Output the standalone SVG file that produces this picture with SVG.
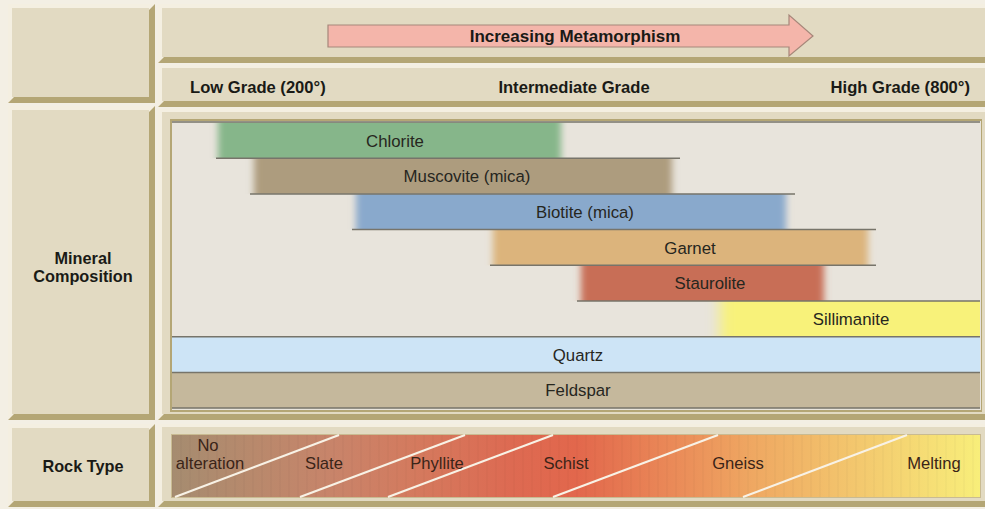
<svg xmlns="http://www.w3.org/2000/svg" width="985" height="509" viewBox="0 0 985 509">
<defs>
<style>
.cell{fill:#e2dac2}
.dk{fill:#b4a675}
.lt{fill:#f4efe1}
.hd{font-family:"Liberation Sans",Arial,sans-serif;font-weight:bold;font-size:16.6px;fill:#1a1a16}
.mn{font-family:"Liberation Sans",Arial,sans-serif;font-size:16.8px;fill:#26261e;text-anchor:middle}
.rk{font-family:"Liberation Sans",Arial,sans-serif;font-size:16.6px;fill:#3a2418;text-anchor:middle}
.sep{stroke:#77746a;stroke-width:1.5;fill:none}
.wl{stroke:#f8f2e6;stroke-width:2.2;fill:none}
</style>
<filter id="soft" x="-6%" y="0" width="112%" height="100%">
<feGaussianBlur stdDeviation="3.5 0"/>
</filter>
<filter id="softer" x="-10%" y="0" width="120%" height="100%">
<feGaussianBlur stdDeviation="7 0"/>
</filter>
<clipPath id="panelclip"><rect x="172" y="121" width="808" height="289"/></clipPath>
<linearGradient id="rockg" x1="172" y1="0" x2="980" y2="0" gradientUnits="userSpaceOnUse">
<stop offset="0" stop-color="#a58c70"/>
<stop offset="0.1" stop-color="#b8896c"/>
<stop offset="0.2" stop-color="#c8846a"/>
<stop offset="0.3" stop-color="#d47a5e"/>
<stop offset="0.42" stop-color="#dd6a52"/>
<stop offset="0.5" stop-color="#e2674c"/>
<stop offset="0.62" stop-color="#ea8a58"/>
<stop offset="0.72" stop-color="#efa862"/>
<stop offset="0.85" stop-color="#f3c86e"/>
<stop offset="1" stop-color="#f8ee7a"/>
</linearGradient>
<pattern id="stripes" x="0" y="0" width="9" height="10" patternUnits="userSpaceOnUse">
<rect x="0" y="0" width="2" height="10" fill="#000" opacity="0.018"/>
</pattern>
</defs>

<rect x="0" y="0" width="985" height="509" fill="#f3efe4"/>

<g id="frame">
<g id="cell-l1">
<rect x="8" y="4" width="147" height="99" class="dk"/>
<polygon points="8,4 155,4 149,10 14,10 14,97 8,103" class="lt"/>
<rect x="12" y="8" width="137" height="89" class="cell"/>
</g>
<g id="cell-l2">
<rect x="8" y="106" width="147" height="314" class="dk"/>
<polygon points="8,106 155,106 149,112 14,112 14,414 8,420" class="lt"/>
<rect x="12" y="110" width="137" height="304" class="cell"/>
</g>
<g id="cell-l3">
<rect x="8" y="424" width="147" height="83" class="dk"/>
<polygon points="8,424 155,424 149,430 14,430 14,501 8,507" class="lt"/>
<rect x="12" y="428" width="137" height="73" class="cell"/>
</g>
<g id="cell-r1">
<rect x="158" y="4" width="827" height="59" class="dk"/>
<polygon points="158,4 985,4 985,10 164,10 164,57 158,63" class="lt"/>
<rect x="162" y="8" width="823" height="49" class="cell"/>
</g>
<g id="cell-r2">
<rect x="158" y="65" width="827" height="42" class="dk"/>
<polygon points="158,65 985,65 985,70 164,70 164,101 158,107" class="lt"/>
<rect x="162" y="68" width="823" height="33" class="cell"/>
</g>
<g id="cell-r3">
<rect x="158" y="109" width="827" height="311" class="dk"/>
<polygon points="158,109 985,109 985,114 164,114 164,414 158,420" class="lt"/>
<rect x="162" y="112" width="823" height="302" class="cell"/>
</g>
<g id="cell-r4">
<rect x="158" y="424" width="827" height="83" class="dk"/>
<polygon points="158,424 985,424 985,429 164,429 164,501 158,507" class="lt"/>
<rect x="162" y="427" width="823" height="74" class="cell"/>
</g>
</g>

<g id="arrow-node">
<polygon points="328,25 789,25 789,15 813,36 789,56 789,47 328,47" fill="#f4b5aa" stroke="#a6877a" stroke-width="1.2"/>
<text class="hd" x="575" y="42" text-anchor="middle" style="font-size:17px">Increasing Metamorphism</text>
</g>

<g id="grades">
<text class="hd" x="190" y="93">Low Grade (200°)</text>
<text class="hd" x="574" y="93" text-anchor="middle">Intermediate Grade</text>
<text class="hd" x="970" y="93" text-anchor="end">High Grade (800°)</text>
</g>

<g id="label-mineral">
<text class="hd" x="83" y="264" text-anchor="middle" style="font-size:16.3px">Mineral</text>
<text class="hd" x="83" y="282" text-anchor="middle" style="font-size:16.3px">Composition</text>
</g>
<g id="label-rock">
<text class="hd" x="83" y="472" text-anchor="middle" style="font-size:16.3px">Rock Type</text>
</g>

<g id="mineral-panel">
<rect x="170" y="119" width="812" height="293" fill="#b4a675"/>
<rect x="172" y="121" width="809" height="289" fill="#e8e4dc"/>
</g>

<g id="bars">
<g clip-path="url(#panelclip)">
<rect x="218" y="122.5" width="343" height="35.7" fill="#86b68a" filter="url(#soft)"/>
<rect x="254" y="158.2" width="418" height="35.7" fill="#ad9c7e" filter="url(#soft)"/>
<rect x="356" y="193.9" width="430" height="35.7" fill="#89a9cc" filter="url(#soft)"/>
<rect x="493" y="229.6" width="375" height="35.7" fill="#dcb47c" filter="url(#soft)"/>
<rect x="581" y="265.3" width="243" height="35.7" fill="#c86e56" filter="url(#soft)"/>
<rect x="720" y="301" width="300" height="35.7" fill="#f8f27a" filter="url(#softer)"/>
<rect x="172" y="336.7" width="808" height="35.7" fill="#cde4f6"/>
<rect x="172" y="372.4" width="808" height="35.7" fill="#c5b89c"/>
</g>
<text class="mn" x="395" y="146.5">Chlorite</text>
<text class="mn" x="467" y="182">Muscovite (mica)</text>
<text class="mn" x="585" y="218">Biotite (mica)</text>
<text class="mn" x="690" y="253.5">Garnet</text>
<text class="mn" x="710" y="289">Staurolite</text>
<text class="mn" x="851" y="325">Sillimanite</text>
<text class="mn" x="578" y="360.5">Quartz</text>
<text class="mn" x="578" y="396">Feldspar</text>
</g>

<g id="connectors">
<line class="sep" x1="172" y1="122" x2="980" y2="122"/>
<line class="sep" x1="216" y1="158.2" x2="680" y2="158.2"/>
<line class="sep" x1="250" y1="193.9" x2="795" y2="193.9"/>
<line class="sep" x1="352" y1="229.6" x2="876" y2="229.6"/>
<line class="sep" x1="490" y1="265.3" x2="876" y2="265.3"/>
<line class="sep" x1="577" y1="301" x2="980" y2="301"/>
<line class="sep" x1="172" y1="336.7" x2="980" y2="336.7"/>
<line class="sep" x1="172" y1="372.4" x2="980" y2="372.4"/>
<line class="sep" x1="172" y1="408.1" x2="980" y2="408.1"/>
</g>

<g id="rock-bar">
<rect x="171" y="434" width="810" height="64" fill="#c9bb92"/>
<rect x="172" y="435" width="808" height="62" fill="url(#rockg)"/>
<rect x="172" y="435" width="808" height="62" fill="url(#stripes)"/>
<line class="wl" x1="175" y1="497" x2="339" y2="435"/>
<line class="wl" x1="300" y1="497" x2="465" y2="435"/>
<line class="wl" x1="388" y1="497" x2="553" y2="435"/>
<line class="wl" x1="553" y1="497" x2="718" y2="435"/>
<line class="wl" x1="743" y1="497" x2="907" y2="435"/>
<text class="rk" x="208" y="451">No</text>
<text class="rk" x="210" y="469">alteration</text>
<text class="rk" x="324" y="469">Slate</text>
<text class="rk" x="437" y="469">Phyllite</text>
<text class="rk" x="566" y="469">Schist</text>
<text class="rk" x="738" y="469">Gneiss</text>
<text class="rk" x="934" y="469">Melting</text>
</g>
</svg>
